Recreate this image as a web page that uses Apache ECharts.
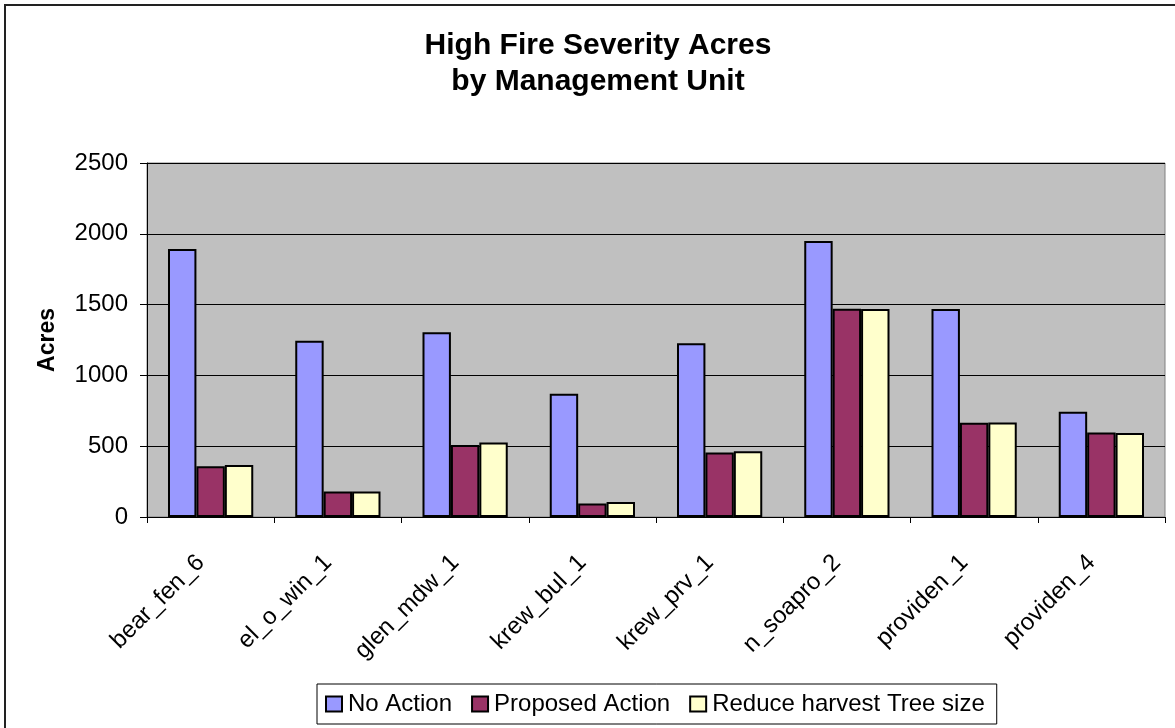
<!DOCTYPE html>
<html>
<head>
<meta charset="utf-8">
<title>High Fire Severity Acres by Management Unit</title>
<script src="https://cdn.jsdelivr.net/npm/echarts@6/dist/echarts.min.js"></script>
<style>
  html, body { margin: 0; padding: 0; background: #ffffff; }
  #chart { width: 1175px; height: 728px; }
</style>
</head>
<body>
<div id="chart"></div>
<script>
// Management units along the category axis
const units = ['bear_fen_6', 'el_o_win_1', 'glen_mdw_1', 'krew_bul_1', 'krew_prv_1', 'n_soapro_2', 'providen_1', 'providen_4'];

// High fire severity acres per alternative
const noAction = [1893, 1245, 1304, 870, 1227, 1950, 1469, 743];
const proposedAction = [359, 180, 509, 95, 455, 1471, 665, 597];
const reduceHarvest = [368, 180, 526, 106, 465, 1469, 668, 594];

// Value axis ticks
const yTicks = [0, 500, 1000, 1500, 2000, 2500];

const FONT = '"Liberation Sans", Arial, Helvetica, sans-serif';

const chart = echarts.init(document.getElementById('chart'), null, { renderer: 'canvas' });

function barSeries(name, data, color) {
  return {
    name: name,
    type: 'bar',
    data: data,
    barGap: '0%',
    barCategoryGap: '33%',
    itemStyle: { color: color, borderColor: '#000000', borderWidth: 2 },
    emphasis: { disabled: true }
  };
}

chart.setOption({
  animation: false,
  backgroundColor: '#ffffff',
  textStyle: { fontFamily: FONT },
  title: {
    text: 'High Fire Severity Acres\nby Management Unit',
    left: 593,
    textAlign: 'center',
    top: 23,
    textStyle: { fontFamily: FONT, fontSize: 30, fontWeight: 'bold', color: '#000000', lineHeight: 36 }
  },
  graphic: [{
    type: 'rect',
    shape: { x: 5, y: 5, width: 1300, height: 900 },
    style: { fill: 'none', stroke: '#222222', lineWidth: 2 },
    silent: true,
    z: -1
  }],
  legend: {
    left: 317,
    top: 684,
    padding: [8, 12, 8, 8],
    itemGap: 19,
    itemWidth: 16,
    itemHeight: 15,
    icon: 'rect',
    backgroundColor: '#ffffff',
    borderColor: '#000000',
    borderWidth: 1,
    itemStyle: { borderColor: '#000000', borderWidth: 2 },
    textStyle: { fontFamily: FONT, fontSize: 24, color: '#000000', padding: [0, 0, 0, 1] },
    data: ['No Action', 'Proposed Action', 'Reduce harvest Tree size']
  },
  grid: {
    left: 147,
    right: 10,
    top: 163,
    bottom: 211,
    show: true,
    backgroundColor: '#c0c0c0',
    borderColor: '#808080',
    borderWidth: 1,
    containLabel: false
  },
  xAxis: {
    type: 'category',
    data: units,
    axisLine: { lineStyle: { color: '#000000', width: 1 } },
    axisTick: { show: true, interval: 0, length: 6, lineStyle: { color: '#000000' } },
    axisLabel: {
      interval: 0,
      rotate: 45,
      margin: 32,
      padding: [0, 14, 0, 0],
      fontFamily: FONT,
      fontSize: 24,
      color: '#000000'
    },
    splitLine: { show: false }
  },
  yAxis: {
    type: 'value',
    min: yTicks[0],
    max: yTicks[yTicks.length - 1],
    interval: 500,
    name: 'Acres',
    nameLocation: 'middle',
    nameGap: 88,
    nameRotate: 90,
    nameTextStyle: { fontFamily: FONT, fontSize: 23, fontWeight: 'bold', color: '#000000' },
    axisLine: { show: true, lineStyle: { color: '#000000', width: 1 } },
    axisTick: { show: true, length: 7, lineStyle: { color: '#000000' } },
    axisLabel: {
      margin: 19,
      fontFamily: FONT,
      fontSize: 24,
      color: '#000000',
      formatter: function (v) { return String(v); }
    },
    splitLine: { show: true, lineStyle: { color: '#000000', width: 1 } }
  },
  series: [
    barSeries('No Action', noAction, '#9999ff'),
    barSeries('Proposed Action', proposedAction, '#993366'),
    barSeries('Reduce harvest Tree size', reduceHarvest, '#ffffcc')
  ]
});
</script>
</body>
</html>
